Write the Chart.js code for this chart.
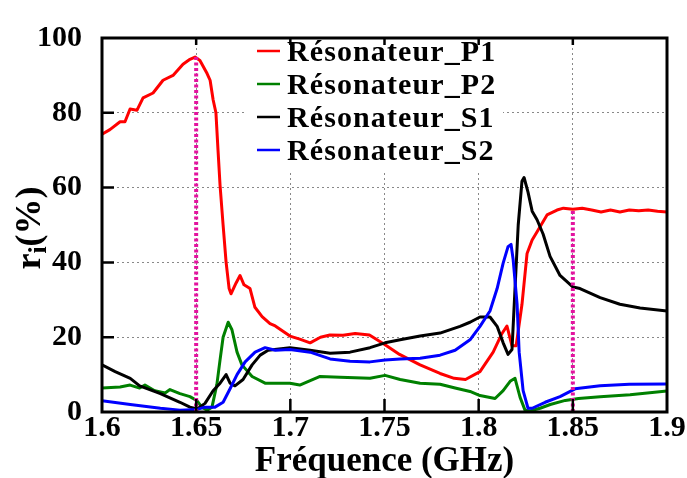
<!DOCTYPE html>
<html>
<head>
<meta charset="utf-8">
<script src="https://cdn.jsdelivr.net/npm/chart.js@4/dist/chart.umd.min.js"></script>
<style>
  html, body { margin: 0; padding: 0; background: #fff; }
  #wrap { width: 687px; height: 478px; }
</style>
</head>
<body>
<div id="wrap"><canvas id="resChart" width="687" height="478"></canvas></div>
<script>
// values
const seriesNames = ['Résonateur_P1', 'Résonateur_P2', 'Résonateur_S1', 'Résonateur_S2'];
const seriesColors = ['#ff0000', '#008000', '#000000', '#0000ff'];
const xTicks = [1.6, 1.65, 1.7, 1.75, 1.8, 1.85, 1.9];
const yTicks = [0, 20, 40, 60, 80, 100];

const p1Freq = [1.6, 1.6042, 1.6096, 1.6122, 1.6149, 1.6186, 1.6218, 1.6271, 1.6324, 1.6377, 1.643, 1.6467, 1.6494, 1.652, 1.6558, 1.6574, 1.659, 1.6605, 1.6616, 1.6627, 1.6643, 1.6659, 1.6675, 1.6685, 1.6712, 1.6733, 1.6754, 1.6786, 1.6812, 1.685, 1.6892, 1.692, 1.6998, 1.705, 1.7105, 1.716, 1.721, 1.728, 1.7344, 1.742, 1.7503, 1.758, 1.7689, 1.7795, 1.787, 1.793, 1.8007, 1.8077, 1.8124, 1.815, 1.8177, 1.8199, 1.823, 1.8257, 1.8284, 1.8315, 1.8363, 1.8416, 1.845, 1.85, 1.855, 1.86, 1.865, 1.87, 1.875, 1.88, 1.885, 1.89, 1.895, 1.9];
const p1Vals = [74.3, 75.5, 77.6, 77.6, 81, 80.7, 84, 85.3, 88.7, 90, 93, 94.3, 94.9, 94, 90.5, 88.7, 83.5, 80, 70, 60.5, 50, 40, 33, 31.6, 34.5, 36.5, 34, 33, 28, 25.5, 23.6, 23, 20.3, 19.5, 18.5, 20, 20.6, 20.5, 21, 20.6, 18, 15.4, 12.6, 10.3, 9, 8.7, 10.8, 16, 21, 23, 17.7, 17.7, 28.8, 42.4, 46, 48.6, 52.7, 54, 54.5, 54.2, 54.5, 54, 53.5, 54, 53.5, 54, 53.8, 54, 53.7, 53.5];

const p2Freq = [1.6, 1.6096, 1.6149, 1.62, 1.6228, 1.628, 1.6335, 1.6361, 1.6414, 1.6467, 1.6505, 1.653, 1.6558, 1.6584, 1.661, 1.6627, 1.6643, 1.667, 1.669, 1.6717, 1.6743, 1.6797, 1.6866, 1.692, 1.6998, 1.705, 1.7158, 1.7264, 1.7423, 1.7503, 1.7583, 1.7689, 1.7795, 1.7875, 1.7954, 1.8007, 1.8087, 1.813, 1.8167, 1.8193, 1.822, 1.8246, 1.8273, 1.8326, 1.838, 1.846, 1.853, 1.8645, 1.8804, 1.9];
const p2Vals = [6.4, 6.7, 7.2, 6.4, 7.2, 5.7, 5.1, 6, 4.9, 4.1, 3, 1.3, 0.5, 1.3, 7.4, 14, 20, 24, 22, 16, 12.6, 9.5, 7.7, 7.7, 7.7, 7.2, 9.5, 9.3, 9, 9.8, 8.7, 7.7, 7.4, 6.4, 5.5, 4.4, 3.6, 5.7, 8.2, 9, 3.9, 0.5, 0.3, 1, 2, 3.1, 3.6, 4.1, 4.6, 5.6];

const s1Freq = [1.6, 1.607, 1.615, 1.62, 1.631, 1.6414, 1.6467, 1.6505, 1.6547, 1.659, 1.6627, 1.6659, 1.668, 1.6706, 1.6749, 1.6797, 1.684, 1.6882, 1.6998, 1.7105, 1.7211, 1.7317, 1.7423, 1.7503, 1.7583, 1.7689, 1.7795, 1.7901, 1.7954, 1.8007, 1.806, 1.8098, 1.813, 1.8156, 1.8177, 1.8193, 1.821, 1.823, 1.8241, 1.8262, 1.8284, 1.831, 1.8342, 1.8379, 1.8432, 1.8501, 1.8538, 1.8645, 1.875, 1.8857, 1.9];
const s1Vals = [12.6, 10.8, 9, 7, 4.9, 2.6, 1.3, 0.8, 2.3, 5.7, 7.7, 10, 7.7, 7, 8.7, 12.6, 15.2, 16.5, 17.2, 16.5, 15.7, 16, 17.2, 18.5, 19.3, 20.3, 21.1, 22.9, 24, 25.4, 25.4, 22.9, 18.5, 15.4, 16.7, 33, 50, 61.7, 62.7, 58.8, 53.7, 51.4, 47.6, 41.6, 36.5, 33.4, 33, 30.6, 28.8, 27.8, 27];

const s2Freq = [1.6, 1.615, 1.631, 1.6414, 1.6505, 1.6547, 1.66, 1.6643, 1.668, 1.6717, 1.676, 1.6813, 1.6866, 1.692, 1.6998, 1.7105, 1.7211, 1.7317, 1.7423, 1.7503, 1.7583, 1.7689, 1.7795, 1.7875, 1.7954, 1.8007, 1.806, 1.8098, 1.813, 1.8156, 1.8172, 1.8183, 1.8204, 1.8215, 1.8236, 1.8262, 1.8284, 1.8353, 1.8432, 1.8512, 1.8645, 1.88, 1.9];
const s2Vals = [3, 2, 1, 0.5, 0.7, 1.3, 1.3, 2.6, 6.2, 10, 13.4, 16, 17.2, 16.5, 16.7, 16, 14.2, 13.6, 13.4, 13.9, 14.2, 14.4, 15.2, 16.5, 19.3, 22.9, 27, 33, 39.8, 44.2, 44.8, 40.8, 28.8, 16, 5.7, 1, 1, 2.6, 4.1, 6.2, 7, 7.4, 7.5];

// magenta markers: frequency and top of the dotted line
const markerFreq = [1.65, 1.85];
const markerTop = [94.9, 54.2];

const FONT = '"Liberation Serif", "Times New Roman", serif';

function toPoints(xs, ys) {
    return xs.map((x, i) => ({ x: x, y: ys[i] }));
}

const curveData = [
    toPoints(p1Freq, p1Vals),
    toPoints(p2Freq, p2Vals),
    toPoints(s1Freq, s1Vals),
    toPoints(s2Freq, s2Vals)
];

const datasets = curveData.map((pts, i) => ({
    label: seriesNames[i],
    data: pts,
    borderColor: seriesColors[i],
    borderWidth: 3,
    borderJoinStyle: 'round',
    pointRadius: 0,
    tension: 0,
    fill: false,
    order: 4 - i
}));

markerFreq.forEach((f, i) => {
    datasets.push({
        label: 'marker' + i,
        data: [{ x: f, y: 0 }, { x: f, y: markerTop[i] }],
        borderColor: '#e3139f',
        borderWidth: 4,
        borderDash: [3, 2.5],
        pointRadius: 0,
        fill: false,
        order: 0
    });
});

// white legend box under the curves, covering the grid
const legendBox = {
    id: 'legendBox',
    beforeDatasetsDraw(chart) {
        const ctx = chart.ctx;
        ctx.save();
        ctx.fillStyle = '#fff';
        ctx.fillRect(247, 26, 256, 144);
        ctx.restore();
    },
    afterDraw(chart) {
        const ctx = chart.ctx;
        ctx.save();
        ctx.font = 'bold 30px ' + FONT;
        ctx.textBaseline = 'middle';
        ctx.letterSpacing = '1.1px';
        seriesNames.forEach((name, i) => {
            const y = 51 + i * 33;
            ctx.strokeStyle = seriesColors[i];
            ctx.lineWidth = 2.5;
            ctx.beginPath();
            ctx.moveTo(257, y);
            ctx.lineTo(280, y);
            ctx.stroke();
            ctx.fillStyle = '#000';
            ctx.fillText(name, 287, y + 2);
        });
        ctx.restore();
    }
};

// frame, inward ticks, y title
const frame = {
    id: 'frame',
    afterDraw(chart) {
        const ctx = chart.ctx;
        const a = chart.chartArea;
        const xs = chart.scales.x;
        const ys = chart.scales.y;
        ctx.save();
        ctx.strokeStyle = '#000';
        ctx.lineWidth = 3;
        ctx.strokeRect(a.left, a.top, a.right - a.left, a.bottom - a.top);
        ctx.lineWidth = 2.5;
        ctx.beginPath();
        yTicks.slice(1, -1).forEach(v => {
            const y = ys.getPixelForValue(v);
            ctx.moveTo(a.left, y);
            ctx.lineTo(a.left + 12, y);
        });
        xTicks.slice(1, -1).forEach(v => {
            const x = xs.getPixelForValue(v);
            ctx.moveTo(x, a.bottom);
            ctx.lineTo(x, a.bottom - 13);
            ctx.moveTo(x, a.top);
            ctx.lineTo(x, a.top + 7);
        });
        ctx.stroke();

        // y axis title: r with subscript i
        ctx.translate(40, 228);
        ctx.rotate(-Math.PI / 2);
        ctx.fillStyle = '#000';
        ctx.textBaseline = 'alphabetic';
        ctx.font = 'bold 36px ' + FONT;
        const wr = ctx.measureText('r').width;
        ctx.font = 'bold 26px ' + FONT;
        const wi = ctx.measureText('i').width;
        ctx.font = 'bold 36px ' + FONT;
        const wp = ctx.measureText('(%)').width;
        let x0 = -(wr + wi + wp) / 2;
        ctx.fillText('r', x0, 0);
        ctx.font = 'bold 26px ' + FONT;
        ctx.fillText('i', x0 + wr, 6);
        ctx.font = 'bold 36px ' + FONT;
        ctx.fillText('(%)', x0 + wr + wi, 0);
        ctx.restore();
    }
};

new Chart(document.getElementById('resChart'), {
    type: 'line',
    data: { datasets: datasets },
    options: {
        responsive: false,
        animation: false,
        layout: { padding: { top: 23, right: 20, left: 0, bottom: 0 } },
        plugins: {
            legend: { display: false },
            tooltip: { enabled: false }
        },
        scales: {
            x: {
                type: 'linear',
                min: 1.6,
                max: 1.9,
                afterBuildTicks: scale => { scale.ticks = xTicks.map(v => ({ value: v })); },
                afterFit: scale => { scale.height = 66; scale.paddingLeft = 0; scale.paddingRight = 0; },
                ticks: {
                    color: '#000',
                    padding: -2,
                    maxRotation: 0,
                    font: { family: FONT, size: 30, weight: 'bold' },
                    callback: v => String(parseFloat(v.toFixed(2)))
                },
                grid: { color: '#888', lineWidth: 1, drawTicks: false },
                border: { display: false, dash: [2, 3] },
                title: {
                    display: true,
                    text: 'Fréquence (GHz)',
                    color: '#000',
                    padding: { top: 0, bottom: -5 },
                    font: { family: FONT, size: 35, weight: 'bold' }
                }
            },
            y: {
                min: 0,
                max: 100,
                afterBuildTicks: scale => { scale.ticks = yTicks.map(v => ({ value: v })); },
                afterFit: scale => { scale.width = 102; },
                ticks: {
                    color: '#000',
                    padding: 20,
                    font: { family: FONT, size: 30, weight: 'bold' }
                },
                grid: { color: '#888', lineWidth: 1, drawTicks: false },
                border: { display: false, dash: [2, 3] }
            }
        }
    },
    plugins: [legendBox, frame]
});
</script>
</body>
</html>
